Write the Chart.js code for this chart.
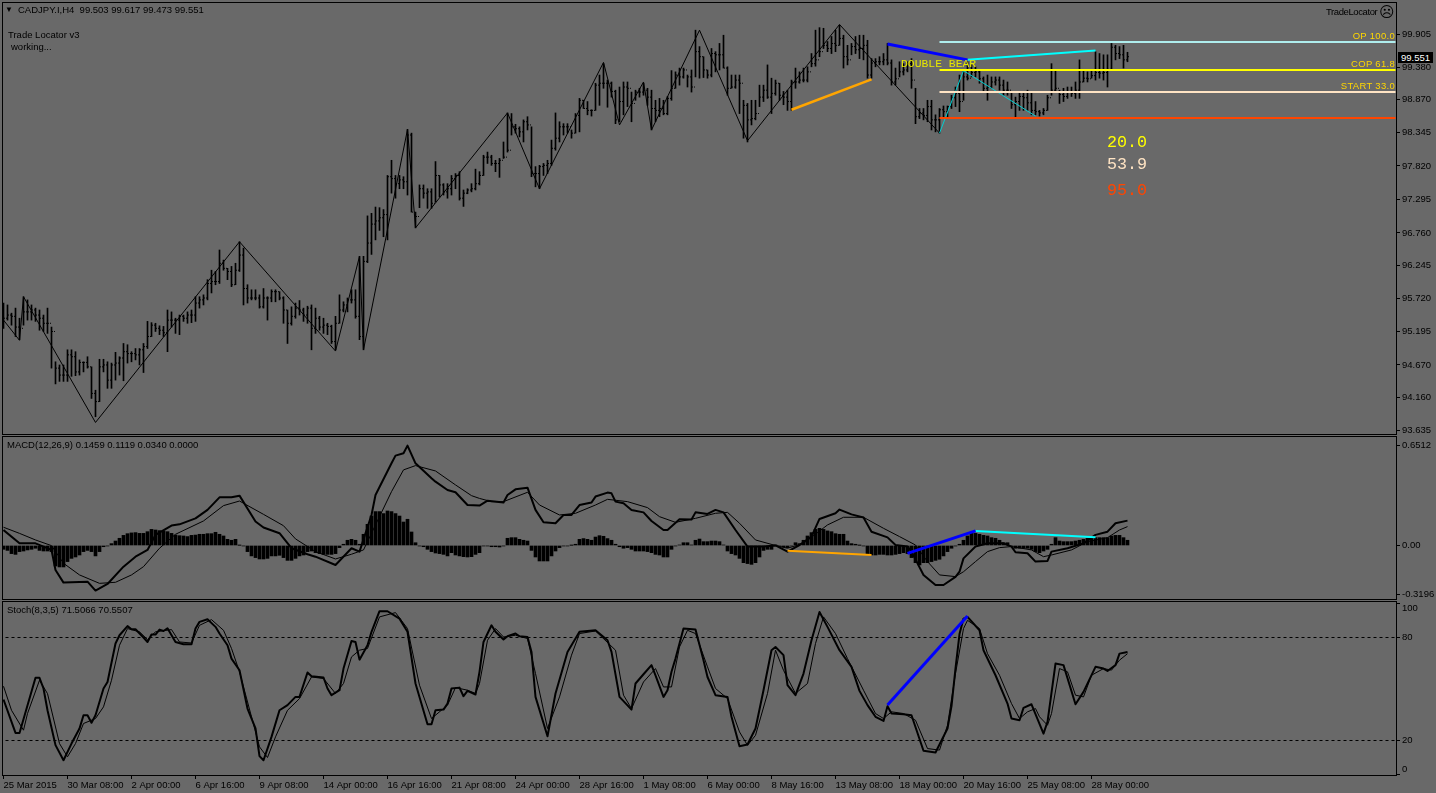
<!DOCTYPE html>
<html><head><meta charset="utf-8">
<script src="https://cdn.jsdelivr.net/npm/chart.js@4"></script>
<style>
html,body{margin:0;padding:0;background:#696969;width:1436px;height:793px;overflow:hidden}
canvas{position:absolute;left:0;display:block}
.t{position:absolute;white-space:pre;font-family:"Liberation Sans",sans-serif;font-size:9.5px;line-height:12px;color:#000}
.m{font-family:"Liberation Mono",monospace}
</style></head><body>
<canvas id="cMain" width="1436" height="435" style="top:0"></canvas>
<canvas id="cMacd" width="1436" height="165" style="top:435px"></canvas>
<canvas id="cStoch" width="1436" height="193" style="top:600px"></canvas>
<span class="t" style="left:5px;top:4px;font-size:8px">▼</span>
<span class="t" style="left:18px;top:4px">CADJPY.I,H4  99.503 99.617 99.473 99.551</span>
<span class="t" style="left:8px;top:29px">Trade Locator v3</span>
<span class="t" style="left:11px;top:41px">working...</span>
<span class="t" style="left:1326px;top:6px;letter-spacing:-.4px">TradeLocator</span>
<span class="t" style="left:1379px;top:5px;font-family:'DejaVu Sans';font-size:15px;line-height:15px">☹</span>
<span class="t" style="right:41px;top:30px;color:#FFD700;letter-spacing:.3px">OP 100.0</span>
<span class="t" style="right:41px;top:58px;color:#FFD700;letter-spacing:.3px">COP 61.8</span>
<span class="t" style="right:41px;top:80px;color:#FFD700;letter-spacing:.3px">START 33.0</span>
<span class="t m" style="left:901px;top:57px;color:#E6E600;font-size:11.4px;line-height:14px">DOUBLE BEAR</span>
<span class="t m" style="left:1107px;top:133px;color:#FFFF00;font-size:16.7px;line-height:20px">20.0</span>
<span class="t m" style="left:1107px;top:155px;color:#FFE4C4;font-size:16.7px;line-height:20px">53.9</span>
<span class="t m" style="left:1107px;top:181px;color:#FF4500;font-size:16.7px;line-height:20px">95.0</span>
<span class="t" style="left:1398px;top:52px;width:32px;height:11px;line-height:11px;background:#000;color:#fff;padding-left:3px">99.551</span>
<span class="t" style="left:7px;top:439px">MACD(12,26,9) 0.1459 0.1119 0.0340 0.0000</span>
<span class="t" style="left:7px;top:604px">Stoch(8,3,5) 71.5066 70.5507</span>
<script>
// ---------- axis labels ----------
const priceTicks=[99.905,99.38,98.87,98.345,97.82,97.295,96.76,96.245,95.72,95.195,94.67,94.16,93.635];
const macdTicks=[0.6512,0,-0.3196];
const macdTickLabels=['0.6512','0.00','-0.3196'];
const stochTicks=[100,80,20,0];
const stochTickLabels=[['','100'],'80','20',['0','']];
const dateTickIdx=[0,16,32,48,64,80,96,112,128,144,160,176,192,208,224,240,256,272];
const dateLabels=['25 Mar 2015','30 Mar 08:00','2 Apr 00:00','6 Apr 16:00','9 Apr 08:00','14 Apr 00:00','16 Apr 16:00','21 Apr 08:00','24 Apr 00:00','28 Apr 16:00','1 May 08:00','6 May 00:00','8 May 16:00','13 May 08:00','18 May 00:00','20 May 16:00','25 May 08:00','28 May 00:00'];
// ---------- price bars ----------
const high=[95.65,95.62,95.49,95.57,95.41,95.75,95.70,95.62,95.57,95.54,95.46,95.57,95.27,94.72,94.67,94.67,94.91,94.91,94.88,94.75,94.72,94.80,94.64,94.27,94.76,94.76,94.72,94.70,94.87,94.80,95.01,94.99,94.88,94.93,94.93,95.01,95.36,95.34,95.33,95.29,95.28,95.54,95.51,95.41,95.46,95.46,95.51,95.54,95.75,95.75,95.78,96.02,96.17,96.15,96.49,96.33,96.20,96.23,96.28,96.62,96.52,95.94,95.86,95.86,95.78,95.88,95.75,95.86,95.86,95.83,95.75,95.54,95.59,95.65,95.69,95.57,95.60,95.62,95.57,95.44,95.41,95.33,95.30,95.44,95.78,95.67,95.73,95.86,95.86,96.39,96.39,
97.03,97.07,97.17,97.16,97.13,97.67,97.91,97.67,97.67,97.65,98.40,98.34,97.09,97.52,97.52,97.46,97.46,97.89,97.67,97.54,97.54,97.67,97.70,97.73,97.44,97.46,97.54,97.77,97.73,97.99,98.04,97.99,97.91,97.94,98.20,98.66,98.65,98.48,98.44,98.55,98.60,98.44,97.81,97.83,97.86,97.91,98.23,98.66,98.52,98.49,98.49,98.39,98.65,98.89,98.86,98.84,98.71,99.13,99.26,99.44,99.18,99.15,99.02,99.07,99.15,99.15,98.99,99.02,99.05,99.13,99.05,99.02,98.86,98.89,98.86,98.92,99.33,99.31,99.37,99.37,99.26,99.34,99.97,99.71,99.55,99.34,99.68,99.63,99.76,99.89,99.39,99.26,99.26,99.26,98.86,98.81,98.86,98.86,99.10,
99.10,99.42,99.21,99.18,99.13,99.00,99.02,99.18,99.37,99.31,99.37,99.39,99.60,99.97,100.01,100.00,99.79,99.87,99.97,100.05,99.89,99.73,99.76,99.87,99.89,99.89,99.81,99.52,99.52,99.55,99.60,99.76,99.50,99.37,99.47,99.44,99.47,99.52,99.05,98.73,98.73,98.86,98.86,98.63,98.73,98.77,98.77,98.94,99.07,99.26,99.34,99.47,99.42,99.39,99.34,99.23,99.26,99.23,99.23,99.23,99.18,99.15,98.99,98.91,98.99,98.99,99.02,98.99,98.84,98.70,98.73,98.94,99.44,99.34,99.02,99.05,99.07,99.07,99.15,99.50,99.34,99.31,99.34,99.63,99.60,99.58,99.58,99.76,99.73,99.71,99.73,99.62];
const low=[95.25,95.38,95.30,95.12,95.07,95.30,95.38,95.38,95.36,95.22,95.20,95.17,94.62,94.37,94.41,94.41,94.41,94.49,94.50,94.51,94.56,94.62,94.14,93.85,94.09,94.56,94.30,94.30,94.43,94.51,94.42,94.70,94.72,94.75,94.67,94.55,94.93,95.12,95.20,95.15,95.12,94.88,95.27,95.17,95.15,95.36,95.33,95.34,95.36,95.57,95.62,95.70,95.81,95.94,95.96,96.17,96.02,95.91,95.94,96.15,95.62,95.65,95.70,95.70,95.57,95.57,95.38,95.67,95.67,95.70,95.33,95.01,95.30,95.41,95.46,95.36,95.33,94.91,95.17,95.22,95.17,95.15,95.01,94.91,95.33,95.51,95.51,95.65,95.41,95.07,94.91,
96.29,96.42,96.65,96.80,96.70,96.65,97.39,97.31,97.46,97.46,97.36,97.09,96.84,97.16,97.31,97.15,97.15,97.25,97.33,97.36,97.31,97.36,97.46,97.28,97.18,97.38,97.41,97.44,97.52,97.67,97.86,97.83,97.73,97.64,97.94,98.04,98.31,98.34,98.28,98.20,98.39,97.65,97.49,97.46,97.67,97.70,97.83,98.07,98.20,98.31,98.34,98.26,98.34,98.36,98.73,98.63,98.61,98.70,98.78,99.05,98.75,98.91,98.49,98.52,98.63,98.76,98.52,98.86,98.91,98.94,98.78,98.39,98.52,98.60,98.63,98.63,98.86,99.05,99.10,99.21,99.07,98.99,99.23,99.21,99.22,99.21,99.23,99.31,99.34,99.37,98.94,99.05,99.05,98.65,98.26,98.20,98.47,98.55,98.76,
98.84,98.89,98.65,98.94,98.86,98.79,98.70,98.70,99.05,99.13,99.15,99.15,99.39,99.40,99.55,99.68,99.63,99.60,99.63,99.73,99.37,99.42,99.58,99.60,99.52,99.50,99.21,99.21,99.39,99.42,99.42,99.42,99.10,99.10,99.23,99.26,99.31,99.05,98.49,98.57,98.55,98.52,98.39,98.36,98.34,98.60,98.57,98.73,98.76,98.68,98.86,99.18,99.23,99.23,99.13,98.99,98.86,99.05,99.10,99.02,98.94,98.94,98.73,98.60,98.70,98.70,98.70,98.63,98.63,98.61,98.63,98.70,98.94,98.99,98.81,98.84,98.89,98.92,98.89,98.89,99.15,99.15,99.21,99.18,99.21,99.18,99.07,99.34,99.50,99.52,99.37,99.47];
const close=[95.41,95.46,95.44,95.27,95.25,95.51,95.51,95.54,95.46,95.41,95.33,95.33,95.20,94.62,94.51,94.51,94.83,94.80,94.56,94.71,94.71,94.64,94.22,94.09,94.64,94.67,94.43,94.67,94.70,94.78,94.88,94.85,94.85,94.83,94.91,94.96,95.12,95.30,95.25,95.22,95.18,95.38,95.38,95.38,95.44,95.41,95.46,95.46,95.65,95.70,95.73,95.96,95.99,95.99,96.28,96.20,96.15,95.94,96.17,96.41,95.88,95.73,95.73,95.73,95.59,95.73,95.73,95.83,95.83,95.73,95.54,95.33,95.44,95.57,95.54,95.46,95.57,95.25,95.41,95.27,95.30,95.28,95.04,95.33,95.54,95.62,95.70,95.70,95.44,95.12,96.31,
96.60,96.90,96.95,97.00,97.05,97.65,97.62,97.54,97.60,97.57,98.31,97.09,97.02,97.46,97.39,97.41,97.23,97.67,97.52,97.41,97.46,97.62,97.67,97.31,97.39,97.44,97.46,97.54,97.67,97.96,97.96,97.86,97.86,97.91,97.96,98.07,98.44,98.41,98.36,98.52,98.47,97.70,97.70,97.81,97.83,97.86,98.10,98.26,98.44,98.44,98.44,98.34,98.62,98.86,98.73,98.70,98.70,99.10,99.13,99.13,99.13,99.00,98.55,98.84,99.07,99.05,98.81,98.99,98.99,99.02,98.91,98.73,98.70,98.73,98.65,98.89,99.05,99.26,99.23,99.34,99.23,99.07,99.63,99.55,99.34,99.26,99.60,99.58,99.58,99.37,99.05,99.07,99.18,99.13,98.78,98.55,98.57,98.65,98.91,
99.02,98.91,98.97,99.13,98.94,98.91,98.84,99.15,99.15,99.18,99.18,99.31,99.44,99.50,99.63,99.73,99.68,99.76,99.73,99.84,99.55,99.50,99.71,99.66,99.68,99.73,99.26,99.45,99.47,99.47,99.50,99.45,99.15,99.20,99.31,99.34,99.44,99.18,98.60,98.66,98.62,98.76,98.55,98.55,98.71,98.68,98.76,98.90,98.97,98.84,99.23,99.21,99.30,99.31,99.20,99.05,99.07,99.15,99.18,99.10,99.02,99.02,98.79,98.84,98.92,98.90,98.82,98.70,98.68,98.66,98.70,98.90,99.02,99.05,98.95,98.92,99.00,98.97,99.02,99.15,99.21,99.20,99.25,99.30,99.29,99.30,99.35,99.70,99.60,99.58,99.50,99.55];
// ---------- price overlays ----------
const zigzagIdx=[0,4,5,23,59,83,89,90,101,103,126,134,150,154,160,162,174,186,209,234];
const zigzagPrice=[95.38,95.06,95.75,93.76,96.62,94.89,96.39,94.91,98.40,96.84,98.66,97.46,99.46,98.47,99.15,98.39,99.97,98.22,100.06,98.34];
const cyanWaveIdx=[234,240,258];
const cyanWavePrice=[98.34,99.33,98.61];
const levelIdx=[234,348];
const levelOp=[99.783,99.783];
const levelCop=[99.34,99.34];
const levelStart=[98.991,98.991];
const levelStop=[98.58,98.58];
const orangeIdx=[197,217]; const orangePrice=[98.71,99.19];
const blueIdx=[221,241]; const bluePrice=[99.75,99.50];
const cyanIdx=[241,273]; const cyanPrice=[99.50,99.65];
// ---------- MACD ----------
const macdMainIdx=[0,4,8,12,13,15,21,23,26,30,33,36,38,42,44,48,51,54,57,59,63,65,69,72,76,78,83,87,89,92,93,97,98,100,101,103,107,108,111,113,116,119,121,125,126,128,131,133,135,138,140,142,144,147,148,151,152,153,155,157,160,162,165,166,169,172,173,176,178,180,183,186,190,193,196,199,202,204,208,209,212,215,217,221,223,226,227,230,233,235,238,239,240,243,246,250,252,253,256,258,261,262,266,270,273,276,278,281];
const macdMain=[0.101,0.014,0.014,-0.029,-0.160,-0.242,-0.236,-0.294,-0.251,-0.138,-0.073,-0.029,0.069,0.130,0.138,0.177,0.232,0.314,0.314,0.325,0.156,0.117,0.080,-0.018,-0.057,-0.073,-0.127,-0.018,-0.040,0.199,0.329,0.536,0.586,0.601,0.651,0.536,0.438,0.416,0.362,0.347,0.264,0.260,0.292,0.280,0.329,0.366,0.377,0.232,0.151,0.145,0.199,0.199,0.264,0.280,0.319,0.345,0.340,0.286,0.275,0.232,0.216,0.160,0.101,0.101,0.171,0.169,0.216,0.206,0.232,0.216,0.101,-0.007,-0.007,0,-0.040,0.003,0.058,0.173,0.210,0.234,0.203,0.182,0.090,0.053,0.003,-0.007,-0.040,-0.192,-0.258,-0.258,-0.205,-0.171,-0.084,-0.007,0.014,0.014,-0.007,-0.044,-0.051,-0.105,-0.101,-0.040,-0.018,0.014,0.069,0.090,0.145,0.162];
const macdSigIdx=[0,4,8,12,15,19,24,28,32,35,39,43,50,55,59,65,70,73,78,83,87,90,93,97,100,103,108,113,117,119,122,125,131,134,139,143,148,151,156,161,164,168,173,178,181,184,188,193,196,200,206,210,215,220,224,228,231,234,238,240,243,246,249,252,257,260,262,267,271,276,279,281];
const macdSig=[0.119,0.079,0.036,-0.001,-0.116,-0.192,-0.247,-0.240,-0.192,-0.138,-0.018,0.073,0.160,0.260,0.290,0.203,0.129,0.043,-0.040,-0.088,-0.057,-0.029,0.134,0.351,0.493,0.521,0.486,0.395,0.325,0.307,0.286,0.286,0.347,0.264,0.199,0.210,0.264,0.301,0.286,0.247,0.188,0.151,0.177,0.210,0.216,0.145,0.036,0,-0.018,0.014,0.134,0.184,0.184,0.112,0.058,0.003,-0.105,-0.192,-0.203,-0.171,-0.105,-0.040,-0.014,-0.007,-0.029,-0.073,-0.062,-0.029,0.025,0.051,0.101,0.123];
const macdHist=[-0.025,-0.032,-0.053,-0.058,-0.040,-0.036,-0.029,-0.025,-0.018,-0.032,-0.036,-0.036,-0.040,-0.134,-0.140,-0.140,-0.105,-0.084,-0.075,-0.062,-0.040,-0.032,-0.040,-0.068,-0.040,-0.008,-0.003,0.012,0.029,0.047,0.066,0.077,0.082,0.084,0.079,0.079,0.090,0.105,0.101,0.097,0.095,0.090,0.079,0.068,0.064,0.062,0.058,0.066,0.068,0.073,0.073,0.077,0.077,0.086,0.073,0.062,0.040,0.034,0.040,0.001,-0.003,-0.040,-0.068,-0.079,-0.088,-0.088,-0.084,-0.068,-0.068,-0.064,-0.079,-0.097,-0.097,-0.084,-0.068,-0.062,-0.040,-0.036,-0.047,-0.053,-0.058,-0.058,-0.058,-0.053,-0.014,0.008,0.034,0.040,0.034,0.008,0.073,0.138,0.192,0.221,0.221,0.208,0.225,0.221,0.208,0.192,0.153,0.171,0.088,0.018,-0.003,-0.008,-0.025,-0.040,-0.049,-0.053,-0.058,-0.068,-0.047,-0.062,-0.068,-0.073,-0.075,-0.073,-0.058,-0.047,
-0.003,-0.003,-0.008,-0.008,-0.010,-0.003,0.047,0.051,0.051,0.040,0.034,0.029,-0.032,-0.075,-0.101,-0.101,-0.101,-0.068,-0.036,-0.014,-0.003,-0.003,0.001,0.008,0.040,0.045,0.040,0.034,0.055,0.064,0.060,0.045,0.034,0.008,-0.008,-0.018,-0.014,-0.025,-0.036,-0.036,-0.036,-0.040,-0.047,-0.058,-0.062,-0.075,-0.075,-0.025,-0.003,0.003,0.018,0.018,0.003,0.034,0.042,0.025,0.025,0.029,0.029,0.025,0.003,-0.036,-0.053,-0.062,-0.084,-0.112,-0.118,-0.123,-0.112,-0.075,-0.032,-0.025,-0.025,0.003,-0.003,-0.010,-0.014,-0.003,0.018,0.012,0.034,0.062,0.084,0.105,0.112,0.105,0.095,0.090,0.077,0.073,0.073,0.029,0.012,0.008,0.001,-0.003,-0.058,-0.062,-0.062,-0.058,-0.058,-0.062,-0.062,-0.058,-0.053,-0.047,-0.053,-0.079,-0.112,-0.127,-0.112,-0.112,-0.105,-0.097,-0.090,-0.068,-0.040,-0.018,-0.003,0.008,0.034,0.062,0.079,0.079,0.073,0.066,0.062,0.051,0.047,0.034,0.018,0.018,-0.003,-0.018,-0.018,-0.018,-0.018,-0.025,-0.040,-0.047,-0.036,-0.025,0.008,0.051,0.029,0.025,0.025,0.025,0.029,0.034,0.040,0.047,0.051,0.051,0.051,0.051,0.051,0.062,0.066,0.066,0.051,0.034];
const macdOrangeIdx=[196,217]; const macdOrange=[-0.034,-0.062];
const macdBlueIdx=[226,243]; const macdBlue=[-0.051,0.095];
const macdCyanIdx=[243,273]; const macdCyan=[0.095,0.053];
// ---------- Stochastic ----------
const stMainIdx=[0,3,4,8,9,10,11,13,15,17,19,20,21,22,23,25,26,28,29,31,32,33,35,36,37,38,39,40,41,43,45,47,48,49,51,53,54,56,57,59,61,63,64,65,67,69,71,73,74,76,77,80,81,82,84,85,87,88,89,91,92,94,96,99,101,103,106,107,108,110,111,112,114,115,116,118,119,120,122,123,125,126,128,129,131,132,133,136,138,141,144,148,151,152,154,157,158,160,162,163,165,166,167,168,170,173,175,176,178,181,182,184,186,188,190,192,193,195,196,198,200,202,204,206,209,212,214,216,218,220,221,222,225,227,230,233,236,237,238,239,240,241,244,245,248,251,252,254,255,257,260,261,263,265,268,270,273,275,276,278,279,281];
const stMain=[43.9,24.4,24.4,56.5,56.5,50.3,37.6,17.3,8.5,18.2,27,34.7,34.7,30.3,34.7,50.3,54.1,76.5,81.3,86.6,84.8,84.8,80,77.4,81.7,81.7,84.6,83.8,85.4,77.4,76.1,76.1,85.2,89.1,90.6,86.2,82.3,75.5,67.7,60.9,38.6,27,10.9,8.5,22.1,37.6,40.6,45.4,45.4,59.6,57.4,56.7,50.3,46.4,49.3,61.9,78,77.4,67.1,75.5,83.3,95.3,95.3,91,83.3,53.2,29.5,29.5,37.6,38,41.5,50.3,50.8,45.8,48.9,46.8,60,77.4,87.1,83.3,78.8,80.7,82.3,80.7,80.3,71.6,45.4,22.5,47.4,71.6,83.3,84.2,78.4,71.6,45.4,38,53.2,58.6,63.9,58,45.4,49.3,60,67.7,85.2,84.6,66.8,57,46.4,45.4,33.8,16.7,17.7,27,49.3,72.6,74.5,69.7,52.2,46.4,59,78.4,94.9,86.2,72.6,62.9,48.9,40.6,33.8,31.4,39.9,35.7,35.3,34.7,14,13,27,40,62,82,91,92,84.2,72.6,58,41.5,32.8,31.8,39,41.1,24,30.9,64.8,63.9,41.1,48.3,62.9,61.9,60.5,63.9,70.6,71.5];
const stSigIdx=[0,2,5,6,9,11,14,16,18,20,23,25,27,29,31,34,36,38,42,44,47,49,52,55,57,59,62,64,66,68,71,74,77,80,83,85,87,89,91,94,98,101,104,107,111,113,116,118,119,121,123,125,128,131,133,136,139,142,144,148,153,155,157,160,163,165,167,169,171,173,176,178,181,184,186,188,191,193,195,198,201,203,205,208,211,215,218,220,222,225,228,231,234,236,238,240,241,244,246,249,252,254,256,258,259,261,262,264,266,268,270,272,275,277,279,281];
const stSig=[51.6,37.6,26,35.7,55.1,47.3,18.2,10.5,18.2,29.9,32.8,39.6,55.1,75.5,85.2,83.3,78.8,83.3,84.6,77.4,76.8,87.1,90.4,84.2,73.6,60,33.8,16.3,10.1,22.1,37.6,44.4,57,56.1,47.4,53.2,68.7,72.6,73.6,92,94.5,85.2,52.2,32.8,40.6,50.8,49.3,47.4,53.2,78.4,85.2,80.3,81.3,79.4,59,27,45.4,69.7,82.3,83.8,72.6,46.4,38.6,54.1,61.9,51.2,51.2,74.5,84.2,82.3,62.9,50.3,44.4,25,17.2,23,47.4,72.6,60.9,47.4,53.2,76.5,92,82.3,67.7,49.3,35.7,32.8,36.7,35.7,31.8,15.3,14.4,28.9,59,85.2,90,85.2,70.6,58,41.5,32.8,36.7,38.6,33.8,28.9,35.7,61.9,60,46.4,45.4,58,61.9,61,66.8,70.55];
const stLevelIdx=[-1,349];
const stLevel80=[80,80];
const stLevel20=[20,20];
const stBlueIdx=[221,241]; const stBlue=[40.7,92.5];

// ---------- helpers ----------
const pts=(xs,ys)=>xs.map((x,i)=>({x,y:ys[i]}));
const INK='#000';
const line=(xs,ys,color,width,extra)=>Object.assign({type:'line',data:pts(xs,ys),borderColor:color,borderWidth:width,pointRadius:0,tension:0,fill:false,borderJoinStyle:'round'},extra||{});
const frame={id:'frame',afterDraw(c){const a=c.chartArea,x=c.ctx;x.save();x.strokeStyle=INK;x.lineWidth=1;x.strokeRect(a.left-.5,a.top+.5,a.right-a.left+1,a.bottom-a.top);x.restore();}};
const FONT={family:'"Liberation Sans"',size:9.5};
const noPad=s=>{s.paddingTop=s.paddingBottom=s.paddingLeft=s.paddingRight=0;};
function build(id,datasets,yMin,yMax,yTicks,yLabels,pad,showX){
  new Chart(document.getElementById(id),{type:'bar',data:{datasets},plugins:[frame],options:{
    responsive:false,animation:false,devicePixelRatio:1,events:[],
    layout:{autoPadding:false,padding:{left:3,right:0,top:pad[0],bottom:pad[1]}},
    plugins:{legend:{display:false},tooltip:{enabled:false},title:{display:false}},
    scales:{
      x:{type:'linear',offset:false,min:-0.125,max:348.125,display:showX,
        grid:{drawOnChartArea:false,color:INK,tickLength:4,offset:false},border:{display:false},
        afterBuildTicks(s){s.ticks=dateTickIdx.map(v=>({value:v}));},
        afterFit(s){s.height=showX?18:0;noPad(s);},
        ticks:{autoSkip:false,maxRotation:0,minRotation:0,align:'start',padding:1,color:INK,font:FONT,
          callback:(v,i)=>dateLabels[i]}},
      y:{type:'linear',position:'right',min:yMin,max:yMax,
        grid:{drawOnChartArea:false,color:INK,tickLength:4},border:{display:false},
        afterBuildTicks(s){s.ticks=yTicks.map(v=>({value:v}));},
        afterFit(s){s.width=40;noPad(s);},
        ticks:{autoSkip:false,padding:2,color:INK,font:FONT,callback:(v,i)=>yLabels[i]}}
    }}});
}
// ---------- main panel ----------
const idx=high.map((_,i)=>i);
const open=close.map((c,i)=>i?close[i-1]:95.45);
build('cMain',[
  line(orangeIdx,orangePrice,'#FFA500',2.5),
  line(blueIdx,bluePrice,'#0000FF',3),
  line(cyanIdx,cyanPrice,'#00FFFF',2),
  line(levelIdx,levelOp,'#AFEEEE',2),
  line(levelIdx,levelCop,'#FFFF00',2),
  line(levelIdx,levelStart,'#FFE4C4',2),
  line(levelIdx,levelStop,'#FF4500',2),
  line(cyanWaveIdx,cyanWavePrice,'#00CED1',1),
  line(zigzagIdx,zigzagPrice,INK,1),
  {type:'line',showLine:false,data:pts(idx.map(i=>i+0.125),close),pointStyle:'dash',pointRadius:1,pointBorderColor:INK,pointBorderWidth:1,pointBackgroundColor:INK},
  {type:'line',showLine:false,data:pts(idx.map(i=>i-0.375),open),pointStyle:'dash',pointRadius:1,pointBorderColor:INK,pointBorderWidth:1,pointBackgroundColor:INK},
  {type:'bar',data:idx.map(i=>({x:i,y:[low[i],high[i]]})),backgroundColor:INK,borderWidth:0,barThickness:1}
],93.577,100.416,priceTicks,priceTicks.map(v=>v.toFixed(3)),[2,1],false);
// ---------- MACD panel ----------
build('cMacd',[
  line(macdOrangeIdx,macdOrange,'#FFA500',2),
  line(macdBlueIdx,macdBlue,'#0000FF',3),
  line(macdCyanIdx,macdCyan,'#00FFFF',2),
  line(macdMainIdx,macdMain,INK,2),
  line(macdSigIdx,macdSig,INK,1),
  {type:'bar',data:idx.map(i=>({x:i,y:macdHist[i]})),backgroundColor:INK,borderWidth:0,barThickness:3}
],-0.349,0.714,macdTicks,macdTickLabels,[1,1],false);
// ---------- Stochastic panel ----------
build('cStoch',[
  line(stBlueIdx,stBlue,'#0000FF',3),
  line(stMainIdx,stMain,INK,2),
  line(stSigIdx,stSig,INK,1),
  line(stLevelIdx,stLevel80,INK,1,{borderDash:[3,3]}),
  line(stLevelIdx,stLevel20,INK,1,{borderDash:[3,3]})
],-0.1,101.26,stochTicks,stochTickLabels,[1,0],true);
</script>
</body></html>
